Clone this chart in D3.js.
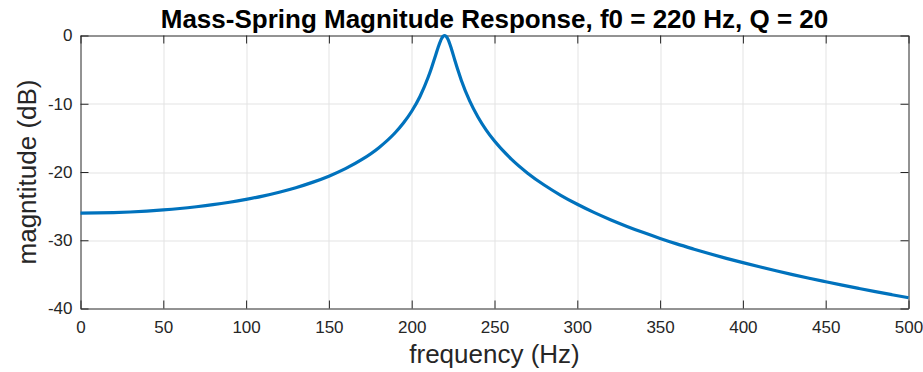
<!DOCTYPE html>
<html>
<head>
<meta charset="utf-8">
<script src="https://cdn.jsdelivr.net/npm/d3@7"></script>
<style>
  body { margin: 0; background: #fff; }
  text { font-family: "Liberation Sans", Arial, sans-serif; }
</style>
</head>
<body>
<div class="plot"></div>
<script>
// frequency (Hz) and magnitude (dB)
var freqs = [0, 10, 20, 30, 40, 50, 60, 70, 80, 90, 100, 110, 120, 130, 140, 150, 160, 170, 180, 190, 195, 200, 205, 210, 212, 214, 216, 218, 219, 220, 221, 222, 224, 226, 228, 230, 235, 240, 245, 250, 260, 270, 280, 290, 300, 310, 320, 330, 340, 350, 360, 370, 380, 390, 400, 410, 420, 430, 440, 450, 460, 470, 480, 490, 500];
var mags = [-26.02, -26.00, -25.95, -25.86, -25.73, -25.56, -25.35, -25.09, -24.79, -24.43, -24.01, -23.53, -22.96, -22.30, -21.52, -20.61, -19.51, -18.16, -16.47, -14.25, -12.83, -11.10, -8.93, -6.09, -4.72, -3.23, -1.71, -0.47, -0.11, 0.00, -0.18, -0.61, -1.97, -3.58, -5.14, -6.58, -9.59, -11.94, -13.86, -15.47, -18.08, -20.17, -21.91, -23.41, -24.73, -25.92, -26.99, -27.97, -28.88, -29.73, -30.53, -31.27, -31.98, -32.65, -33.28, -33.89, -34.47, -35.03, -35.57, -36.08, -36.58, -37.06, -37.53, -37.98, -38.42];
var xTicks = [0, 50, 100, 150, 200, 250, 300, 350, 400, 450, 500];
var yTicks = [-40, -30, -20, -10, 0];

var width = 923, height = 372;
var margin = {top: 35.5, right: 14.5, bottom: 63.5, left: 80.5};
var w = width - margin.left - margin.right;
var h = height - margin.top - margin.bottom;

var svg = d3.select(".plot").append("svg")
  .attr("width", width)
  .attr("height", height);

var g = svg.append("g")
  .attr("transform", "translate(" + margin.left + "," + margin.top + ")");

var x = d3.scaleLinear().domain([0, 500]).range([0, w]);
var y = d3.scaleLinear().domain([-40, 0]).range([h, 0]);

// grid
g.append("g").selectAll("line")
  .data(xTicks.slice(1, -1))
  .enter().append("line")
  .attr("x1", function(d) { return Math.round(x(d)) + 0.5; })
  .attr("x2", function(d) { return Math.round(x(d)) + 0.5; })
  .attr("y1", 0).attr("y2", h)
  .style("stroke", "#e3e3e3").style("stroke-width", 1);
g.append("g").selectAll("line")
  .data(yTicks.slice(1, -1))
  .enter().append("line")
  .attr("y1", function(d) { return Math.round(y(d)) + 0.5; })
  .attr("y2", function(d) { return Math.round(y(d)) + 0.5; })
  .attr("x1", 0).attr("x2", w)
  .style("stroke", "#e3e3e3").style("stroke-width", 1);

// axes, ticks inward like matlab
var tl = 8;
var fmt = function(d) { return String(d); };
var xAxis = g.append("g")
  .attr("transform", "translate(0," + h + ")")
  .call(d3.axisBottom(x).tickValues(xTicks).tickSizeInner(-tl).tickSizeOuter(0).tickPadding(12).tickFormat(fmt));
var xTop = g.append("g")
  .call(d3.axisTop(x).tickValues(xTicks).tickSizeInner(-tl).tickSizeOuter(0).tickFormat(""));
var yAxis = g.append("g")
  .call(d3.axisLeft(y).tickValues(yTicks).tickSizeInner(-tl).tickSizeOuter(0).tickPadding(8).tickFormat(fmt));
var yRight = g.append("g")
  .attr("transform", "translate(" + w + ",0)")
  .call(d3.axisRight(y).tickValues(yTicks).tickSizeInner(-tl).tickSizeOuter(0).tickFormat(""));

[xAxis, xTop, yAxis, yRight].forEach(function(a) {
  a.select(".domain").style("stroke", "#262626").style("stroke-width", 1);
  a.selectAll(".tick line").style("stroke", "#262626");
  a.selectAll(".tick text")
    .style("font-size", "17px")
    .style("fill", "#262626");
});
xAxis.selectAll(".tick text").attr("dy", "0.71em");

// curve
var pts = freqs.map(function(f, i) { return [f, mags[i]]; });
var line = d3.line()
  .x(function(d) { return x(d[0]); })
  .y(function(d) { return y(d[1]); })
  .curve(d3.curveMonotoneX);

g.append("path")
  .datum(pts)
  .attr("d", line)
  .style("fill", "none")
  .style("stroke", "#0072BD")
  .style("stroke-width", 3.2)
  .style("stroke-linejoin", "round");

// labels
svg.append("text")
  .attr("x", margin.left + w / 2)
  .attr("y", 28)
  .style("text-anchor", "middle")
  .style("font-size", "26px")
  .style("font-weight", "bold")
  .style("fill", "#000")
  .text("Mass-Spring Magnitude Response, f0 = 220 Hz, Q = 20");

svg.append("text")
  .attr("x", margin.left + w / 2)
  .attr("y", 363)
  .style("text-anchor", "middle")
  .style("font-size", "26px")
  .style("fill", "#262626")
  .text("frequency (Hz)");

svg.append("text")
  .attr("transform", "translate(36," + (margin.top + h / 2) + ") rotate(-90)")
  .style("text-anchor", "middle")
  .style("font-size", "26px")
  .style("fill", "#262626")
  .text("magntitude (dB)");
</script>
</body>
</html>
